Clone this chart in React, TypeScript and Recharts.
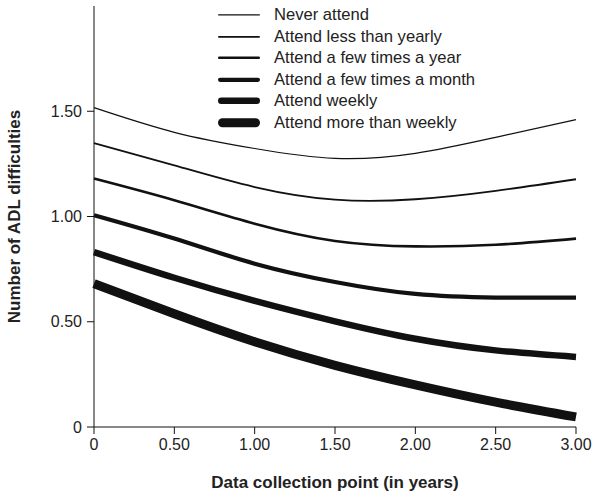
import React from 'react';
import { LineChart, Line, XAxis, YAxis, Legend } from 'recharts';

const years = [0, 0.5, 1, 1.5, 2, 2.5, 3];
const seriesNames = [
  'Never attend',
  'Attend less than yearly',
  'Attend a few times a year',
  'Attend a few times a month',
  'Attend weekly',
  'Attend more than weekly',
];
const neverAttend = [1.517, 1.4, 1.323, 1.276, 1.3, 1.376, 1.46];
const lessThanYearly = [1.349, 1.243, 1.14, 1.08, 1.082, 1.122, 1.177];
const fewTimesYear = [1.18, 1.077, 0.966, 0.884, 0.858, 0.866, 0.895];
const fewTimesMonth = [1.006, 0.895, 0.776, 0.689, 0.632, 0.615, 0.615];
const weekly = [0.831, 0.709, 0.599, 0.502, 0.419, 0.364, 0.333];
const moreThanWeekly = [0.681, 0.538, 0.405, 0.293, 0.2, 0.118, 0.048];
const xTicks = [0, 0.5, 1, 1.5, 2, 2.5, 3];
const yTicks = [0, 0.5, 1, 1.5];

const seriesValues = [neverAttend, lessThanYearly, fewTimesYear, fewTimesMonth, weekly, moreThanWeekly];
const strokeWidths = [1.2, 1.8, 2.6, 4.2, 6.5, 9];

const data = years.map((t, i) => {
  const row: Record<string, number> = { t };
  seriesValues.forEach((vals, k) => {
    row['s' + k] = vals[i];
  });
  return row;
});

const FONT = '"Liberation Sans", Arial, Helvetica, sans-serif';
const TEXT = '#222';
const LINE = '#111';

const fmt = (v: number) => (v === 0 ? '0' : v.toFixed(2));

const renderLegend = () => (
  <div style={{ fontFamily: FONT, fontSize: 16.6, color: TEXT }}>
    {seriesNames.map((name, k) => {
      const w = strokeWidths[k];
      return (
        <div key={name} style={{ display: 'flex', alignItems: 'center', height: 21.6 }}>
          <svg width={59} height={21.6} style={{ display: 'block' }}>
            <line
              x1={3 + w / 2}
              x2={45 - w / 2}
              y1={10.8}
              y2={10.8}
              stroke={LINE}
              strokeWidth={w}
              strokeLinecap="round"
            />
          </svg>
          <span style={{ lineHeight: '21.6px', whiteSpace: 'nowrap' }}>{name}</span>
        </div>
      );
    })}
  </div>
);

const renderYLabel = (props: any) => {
  const vb = props.viewBox || {};
  const cx = 14;
  const cy = (vb.y ?? 6) + (vb.height ?? 421) / 2;
  return (
    <text
      x={cx}
      y={cy}
      transform={`rotate(-90, ${cx}, ${cy})`}
      textAnchor="middle"
      dominantBaseline="central"
      fontFamily={FONT}
      fontWeight="bold"
      fontSize={17}
      fill={TEXT}
    >
      Number of ADL difficulties
    </text>
  );
};

const renderXLabel = (props: any) => {
  const vb = props.viewBox || {};
  const cx = (vb.x ?? 94) + (vb.width ?? 482) / 2;
  const y = (vb.y ?? 427) + 61;
  return (
    <text
      x={cx}
      y={y}
      textAnchor="middle"
      fontFamily={FONT}
      fontWeight="bold"
      fontSize={17}
      fill={TEXT}
    >
      Data collection point (in years)
    </text>
  );
};

export default function App() {
  return (
    <div style={{ position: 'absolute', left: 0, top: 0, background: '#fff' }}>
      <LineChart width={600} height={495} data={data} margin={{ top: 6, right: 24, left: 0, bottom: 0 }}>
        <XAxis
          dataKey="t"
          type="number"
          domain={[0, 3]}
          ticks={xTicks}
          tickFormatter={fmt}
          height={68}
          tickSize={7}
          tickMargin={5}
          stroke={LINE}
          tick={{ fill: TEXT, fontSize: 16, fontFamily: FONT }}
          tickLine={{ stroke: LINE }}
          axisLine={{ stroke: LINE }}
          label={renderXLabel}
        />
        <YAxis
          type="number"
          domain={[0, 2]}
          ticks={yTicks}
          tickFormatter={fmt}
          width={94}
          tickSize={7}
          tickMargin={5}
          stroke={LINE}
          tick={{ fill: TEXT, fontSize: 16, fontFamily: FONT }}
          tickLine={{ stroke: LINE }}
          axisLine={{ stroke: LINE }}
          label={renderYLabel}
        />
        <Legend
          layout="vertical"
          align="center"
          verticalAlign="middle"
          content={renderLegend}
          wrapperStyle={{ position: 'absolute', top: 4, left: 215, width: 330 }}
        />
        {seriesNames.map((name, k) => (
          <Line
            key={name}
            name={name}
            dataKey={'s' + k}
            type="natural"
            stroke={LINE}
            strokeWidth={strokeWidths[k]}
            dot={false}
            activeDot={false}
            isAnimationActive={false}
          />
        ))}
      </LineChart>
    </div>
  );
}
